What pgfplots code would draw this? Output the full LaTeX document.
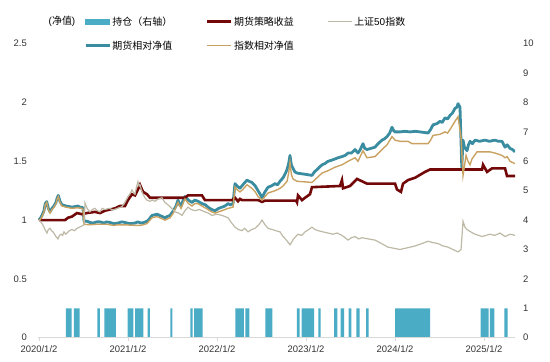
\documentclass[border=0pt]{standalone}
\usepackage{pgfplots}
\pgfplotsset{compat=1.18}
\usepackage{fontspec}
\setmainfont{Liberation Sans}
\newfontfamily\cjk{Noto Sans CJK SC}
\definecolor{barc}{HTML}{4BACC6}
\definecolor{tealc}{HTML}{3A8CA0}
\definecolor{tanc}{HTML}{C9A262}
\definecolor{grayc}{HTML}{BDB9A6}
\definecolor{redc}{HTML}{720808}
\definecolor{axc}{HTML}{D9D9D9}
\definecolor{labc}{HTML}{333333}
\begin{document}
\begin{tikzpicture}
% ---------- secondary axis: position (right axis 0-10) ----------
\begin{axis}[
  at={(38bp,24.3bp)}, anchor=south west, scale only axis,
  width=477bp, height=294bp,
  xmin=-0.011, xmax=5.348, ymin=0, ymax=10,
  axis x line=none, axis y line*=right,
  y axis line style={draw=none},
  ytick={0,1,2,3,4,5,6,7,8,9,10},
  major tick length=0pt, ytick style={draw=none},
  yticklabel style={font=\fontsize{9.5}{11}\selectfont, text=labc, xshift=4.7bp},
  /pgf/number format/assume math mode=true,
]
\addplot[fill=barc, draw=none] coordinates {
(-0.011,0)
(0.303,0) (0.303,1) (0.367,1) (0.367,0)
(0.393,0) (0.393,1) (0.457,1) (0.457,0)
(0.655,0) (0.655,1) (0.685,1) (0.685,0)
(0.734,0) (0.734,1) (0.865,1) (0.865,0)
(0.997,0) (0.997,1) (1.060,1) (1.060,0)
(1.079,0) (1.079,1) (1.172,1) (1.172,0)
(1.221,0) (1.221,1) (1.247,1) (1.247,0)
(1.475,0) (1.475,1) (1.498,1) (1.498,0)
(1.700,0) (1.700,1) (1.727,1) (1.727,0)
(1.742,0) (1.742,1) (1.839,1) (1.839,0)
(2.206,0) (2.206,1) (2.303,1) (2.303,0)
(2.318,0) (2.318,1) (2.363,1) (2.363,0)
(2.543,0) (2.543,1) (2.621,1) (2.621,0)
(2.896,0) (2.896,1) (2.929,1) (2.929,0)
(2.952,0) (2.952,1) (3.090,1) (3.090,0)
(3.138,0) (3.138,1) (3.165,1) (3.165,0)
(3.315,0) (3.315,1) (3.352,1) (3.352,0)
(3.390,0) (3.390,1) (3.427,1) (3.427,0)
(3.480,0) (3.480,1) (3.509,1) (3.509,0)
(3.565,0) (3.565,1) (3.603,1) (3.603,0)
(3.674,0) (3.674,1) (3.704,1) (3.704,0)
(4.000,0) (4.000,1) (4.393,1) (4.393,0)
(4.963,0) (4.963,1) (5.053,1) (5.053,0)
(5.067,0) (5.067,1) (5.116,1) (5.116,0)
(5.228,0) (5.228,1) (5.266,1) (5.266,0)
(5.348,0)
};
\end{axis}
% ---------- main axis: net values (left axis 0-2.5) ----------
\begin{axis}[
  at={(38bp,24.3bp)}, anchor=south west, scale only axis,
  width=477bp, height=294bp,
  xmin=-0.011, xmax=5.348, ymin=0, ymax=2.5,
  axis x line*=bottom, axis y line*=left,
  x axis line style={-, draw=axc, line width=0.8bp},
  y axis line style={draw=none},
  xtick={0,1,2,3,4,5},
  xticklabels={2020/1/2,2021/1/2,2022/1/2,2023/1/2,2024/1/2,2025/1/2},
  ytick={0,0.5,1,1.5,2,2.5},
  tick align=outside, major tick length=3bp,
  xtick style={draw=axc, line width=0.8bp},
  ytick style={draw=none},
  xticklabel style={font=\fontsize{9.5}{11}\selectfont, text=labc, yshift=-1bp},
  yticklabel style={font=\fontsize{9.5}{11}\selectfont, text=labc, xshift=-4.7bp},
  /pgf/number format/assume math mode=true,
  legend columns=3,
  legend style={at={(0.0964,1.098)}, anchor=north west, draw=none, fill=none,
    inner sep=0pt, row sep=11bp, column sep=0bp,
    nodes={inner sep=1.5bp, text=black},
    font=\fontsize{10}{12}\selectfont},
]
\addlegendimage{legend image code/.code={\fill[barc] (0bp,-2.6bp) rectangle (24bp,2.6bp);}}
\addlegendentry{\makebox[92bp][l]{\cjk 持仓（右轴）}}
\addlegendimage{legend image code/.code={\draw[redc, line width=2.6bp] (0bp,0bp) -- (24bp,0bp);}}
\addlegendentry{\makebox[92bp][l]{\cjk 期货策略收益}}
\addlegendimage{legend image code/.code={\draw[grayc, line width=1.2bp] (0bp,0bp) -- (24bp,0bp);}}
\addlegendentry{\makebox[92bp][l]{{\cjk 上证}50{\cjk 指数}}}
\addlegendimage{legend image code/.code={\draw[tealc, line width=2.8bp] (0bp,0bp) -- (24bp,0bp);}}
\addlegendentry{\makebox[92bp][l]{\cjk 期货相对净值}}
\addlegendimage{legend image code/.code={\draw[tanc, line width=1.4bp] (0bp,0bp) -- (24bp,0bp);}}
\addlegendentry{\makebox[92bp][l]{\cjk 指数相对净值}}

% 期货相对净值
\addplot[tealc, line width=2.8bp, line join=round, forget plot] coordinates {
(0,1.00) (0.020,1.02) (0.034,1.04) (0.056,1.08) (0.070,1.14) (0.087,1.157) (0.105,1.10) (0.124,1.07)
(0.146,1.10) (0.169,1.12) (0.191,1.15) (0.205,1.19) (0.217,1.21) (0.236,1.16) (0.258,1.13) (0.280,1.125)
(0.303,1.12) (0.340,1.115) (0.371,1.11) (0.405,1.115) (0.438,1.12) (0.460,1.11) (0.483,1.11) (0.494,1.10)
(0.506,0.99) (0.540,0.99) (0.573,0.98) (0.610,0.975) (0.650,0.985) (0.685,0.985) (0.730,0.975) (0.760,0.985)
(0.798,0.98) (0.840,0.97) (0.888,0.975) (0.930,0.985) (0.966,0.98) (1.020,0.97) (1.079,0.975) (1.110,0.985)
(1.146,0.975) (1.180,0.98) (1.213,0.99) (1.240,1.01) (1.270,1.04) (1.300,1.045) (1.326,1.05) (1.370,1.035)
(1.416,1.02) (1.440,1.03) (1.472,1.04) (1.510,1.08) (1.540,1.12) (1.562,1.17) (1.580,1.13) (1.596,1.12)
(1.615,1.16) (1.640,1.20) (1.680,1.17) (1.719,1.15) (1.750,1.17) (1.787,1.16) (1.830,1.14) (1.870,1.13)
(1.899,1.11) (1.940,1.09) (1.978,1.08) (2.020,1.10) (2.056,1.11) (2.090,1.12) (2.124,1.14) (2.150,1.13)
(2.180,1.14) (2.202,1.31) (2.225,1.29) (2.258,1.27) (2.290,1.30) (2.337,1.34) (2.360,1.33) (2.393,1.32)
(2.430,1.29) (2.461,1.25) (2.485,1.22) (2.506,1.19) (2.539,1.24) (2.573,1.28) (2.610,1.29) (2.652,1.31)
(2.680,1.30) (2.708,1.33) (2.742,1.36) (2.770,1.40) (2.787,1.43) (2.805,1.48) (2.820,1.55) (2.835,1.47)
(2.854,1.44) (2.875,1.41) (2.899,1.40) (2.940,1.395) (2.989,1.39) (3.030,1.385) (3.067,1.38) (3.095,1.41)
(3.124,1.43) (3.150,1.45) (3.180,1.47) (3.210,1.48) (3.247,1.50) (3.290,1.51) (3.326,1.52) (3.360,1.53)
(3.404,1.54) (3.440,1.55) (3.472,1.57) (3.510,1.57) (3.551,1.60) (3.584,1.57) (3.610,1.60) (3.640,1.65)
(3.660,1.61) (3.685,1.60) (3.730,1.61) (3.775,1.62) (3.810,1.65) (3.854,1.68) (3.880,1.69) (3.910,1.71)
(3.940,1.74) (3.966,1.79) (3.985,1.76) (4.000,1.75) (4.056,1.75) (4.110,1.755) (4.169,1.75) (4.230,1.755)
(4.281,1.75) (4.330,1.745) (4.371,1.74) (4.400,1.77) (4.427,1.81) (4.470,1.82) (4.506,1.84) (4.530,1.83)
(4.562,1.87) (4.590,1.86) (4.618,1.89) (4.645,1.91) (4.674,1.95) (4.695,1.96) (4.708,1.99) (4.730,1.96)
(4.750,1.45) (4.764,1.68) (4.780,1.62) (4.809,1.59) (4.825,1.64) (4.843,1.67) (4.870,1.65) (4.899,1.68)
(4.950,1.67) (5.011,1.68) (5.060,1.67) (5.124,1.68) (5.160,1.67) (5.202,1.67) (5.236,1.62) (5.260,1.64)
(5.292,1.61) (5.320,1.60) (5.348,1.58)
};
% 期货策略收益
\addplot[redc, line width=2.6bp, forget plot] coordinates {
(0,1.00) (0.292,1.00) (0.326,1.02) (0.371,1.03) (0.427,1.06) (0.483,1.05) (0.539,1.06)
(0.629,1.07) (0.685,1.06) (0.742,1.08) (0.798,1.09) (0.854,1.10) (0.910,1.12) (0.966,1.12)
(1.000,1.17) (1.045,1.22) (1.079,1.21) (1.112,1.26) (1.135,1.30) (1.169,1.24) (1.213,1.22)
(1.247,1.19) (1.640,1.19) (1.674,1.21) (1.831,1.21) (1.865,1.17) (2.169,1.17) (2.202,1.19)
(2.236,1.16) (2.258,1.18) (2.281,1.17) (2.461,1.17) (2.506,1.155) (2.539,1.165) (2.888,1.165)
(2.899,1.15) (2.910,1.21) (2.955,1.17) (2.989,1.19) (3.045,1.22) (3.067,1.28) (3.382,1.29)
(3.404,1.34) (3.416,1.27) (3.494,1.29) (3.573,1.35) (3.629,1.33) (3.685,1.31) (4.000,1.31)
(4.022,1.26) (4.067,1.24) (4.090,1.31) (4.146,1.34) (4.225,1.36) (4.337,1.41) (4.393,1.43)
(4.978,1.43) (4.989,1.47) (5.034,1.41) (5.090,1.44) (5.236,1.44) (5.258,1.375) (5.348,1.375)
};
% 指数相对净值
\addplot[tanc, line width=1.4bp, forget plot] coordinates {
(0,1.00) (0.020,1.01) (0.034,1.03) (0.056,1.07) (0.070,1.13) (0.087,1.15) (0.105,1.09) (0.124,1.06)
(0.146,1.09) (0.169,1.11) (0.191,1.14) (0.205,1.18) (0.217,1.20) (0.236,1.15) (0.258,1.12) (0.303,1.11)
(0.371,1.10) (0.438,1.105) (0.483,1.10) (0.494,1.09) (0.506,0.965) (0.573,0.96) (0.650,0.965) (0.685,0.965)
(0.760,0.965) (0.840,0.955) (0.888,0.96) (0.966,0.96) (1.079,0.955) (1.146,0.955) (1.213,0.97) (1.270,1.02)
(1.326,1.03) (1.370,1.015) (1.416,1.00) (1.472,1.02) (1.510,1.06) (1.562,1.15) (1.596,1.10) (1.640,1.18)
(1.680,1.14) (1.719,1.12) (1.750,1.14) (1.787,1.14) (1.830,1.12) (1.899,1.09) (1.940,1.07) (1.978,1.06)
(2.056,1.08) (2.090,1.09) (2.124,1.10) (2.180,1.11) (2.202,1.28) (2.225,1.26) (2.258,1.24) (2.290,1.26)
(2.337,1.30) (2.393,1.27) (2.430,1.24) (2.461,1.20) (2.506,1.17) (2.540,1.20) (2.573,1.23) (2.652,1.25)
(2.708,1.27) (2.742,1.29) (2.787,1.33) (2.805,1.40) (2.820,1.49) (2.835,1.39) (2.854,1.35) (2.899,1.33)
(2.989,1.325) (3.067,1.32) (3.124,1.36) (3.180,1.40) (3.247,1.42) (3.326,1.45) (3.404,1.47) (3.472,1.50)
(3.551,1.53) (3.584,1.50) (3.640,1.59) (3.685,1.53) (3.775,1.54) (3.854,1.60) (3.910,1.64) (3.966,1.71)
(4.000,1.68) (4.056,1.67) (4.146,1.67) (4.191,1.65) (4.371,1.65) (4.400,1.68) (4.427,1.72) (4.506,1.73)
(4.562,1.75) (4.590,1.74) (4.618,1.77) (4.674,1.84) (4.708,1.88) (4.742,1.70) (4.764,1.38) (4.798,1.55)
(4.820,1.50) (4.843,1.47) (4.865,1.52) (4.921,1.58) (4.990,1.58) (5.067,1.58) (5.124,1.57) (5.202,1.55)
(5.236,1.53) (5.260,1.54) (5.292,1.50) (5.348,1.48)
};
% 上证50指数
\addplot[grayc, line width=1.2bp, forget plot] coordinates {
(0,1.00) (0.015,0.99) (0.034,0.97) (0.050,0.95) (0.067,0.92) (0.090,0.89) (0.105,0.92) (0.124,0.93)
(0.140,0.91) (0.157,0.90) (0.175,0.88) (0.191,0.86) (0.213,0.84) (0.230,0.87) (0.247,0.88) (0.265,0.87)
(0.281,0.90) (0.300,0.88) (0.315,0.89) (0.340,0.91) (0.371,0.92) (0.400,0.91) (0.427,0.93) (0.455,0.94)
(0.483,0.95) (0.506,0.96) (0.517,1.145) (0.540,1.10) (0.573,1.07) (0.600,1.09) (0.629,1.10) (0.655,1.08)
(0.685,1.07) (0.710,1.10) (0.742,1.09) (0.790,1.10) (0.831,1.086) (0.880,1.10) (0.933,1.115) (0.965,1.15)
(1.000,1.20) (1.020,1.22) (1.045,1.256) (1.065,1.23) (1.079,1.22) (1.095,1.28) (1.112,1.327) (1.125,1.29)
(1.135,1.30) (1.150,1.26) (1.169,1.22) (1.190,1.19) (1.213,1.17) (1.247,1.16) (1.275,1.17) (1.303,1.16)
(1.340,1.18) (1.382,1.19) (1.415,1.15) (1.449,1.13) (1.490,1.10) (1.528,1.07) (1.570,1.06) (1.607,1.04)
(1.640,1.08) (1.674,1.11) (1.710,1.09) (1.753,1.08) (1.800,1.09) (1.865,1.07) (1.900,1.06) (1.944,1.04)
(2.000,1.05) (2.056,1.04) (2.090,1.03) (2.124,1.02) (2.160,0.98) (2.202,0.94) (2.240,0.92) (2.281,0.91)
(2.310,0.93) (2.348,0.90) (2.390,0.92) (2.427,0.93) (2.470,0.96) (2.506,1.00) (2.540,0.96) (2.573,0.93)
(2.620,0.92) (2.660,0.91) (2.708,0.90) (2.742,0.86) (2.780,0.83) (2.820,0.79) (2.860,0.84) (2.910,0.88)
(2.950,0.87) (2.989,0.90) (3.030,0.92) (3.067,0.94) (3.100,0.92) (3.135,0.91) (3.190,0.90) (3.247,0.89)
(3.300,0.88) (3.350,0.89) (3.404,0.87) (3.440,0.85) (3.472,0.83) (3.510,0.85) (3.551,0.86) (3.590,0.84)
(3.629,0.85) (3.700,0.84) (3.775,0.83) (3.850,0.80) (3.921,0.77) (3.990,0.76) (4.056,0.75) (4.112,0.76)
(4.170,0.77) (4.225,0.78) (4.300,0.80) (4.371,0.82) (4.420,0.81) (4.483,0.80) (4.540,0.78) (4.596,0.77)
(4.650,0.75) (4.708,0.73) (4.742,0.75) (4.764,0.99) (4.785,0.94) (4.809,0.92) (4.850,0.90) (4.899,0.88)
(4.940,0.87) (4.978,0.86) (5.020,0.87) (5.067,0.88) (5.120,0.87) (5.180,0.89) (5.236,0.86) (5.292,0.88)
(5.348,0.87)
};
\end{axis}
\node[font=\fontsize{10}{12}\selectfont, text=black] at (62bp,341bp) {({\cjk 净值})};
\pgfresetboundingbox
\useasboundingbox (0,0) rectangle (550bp,362bp);
\end{tikzpicture}
\end{document}
